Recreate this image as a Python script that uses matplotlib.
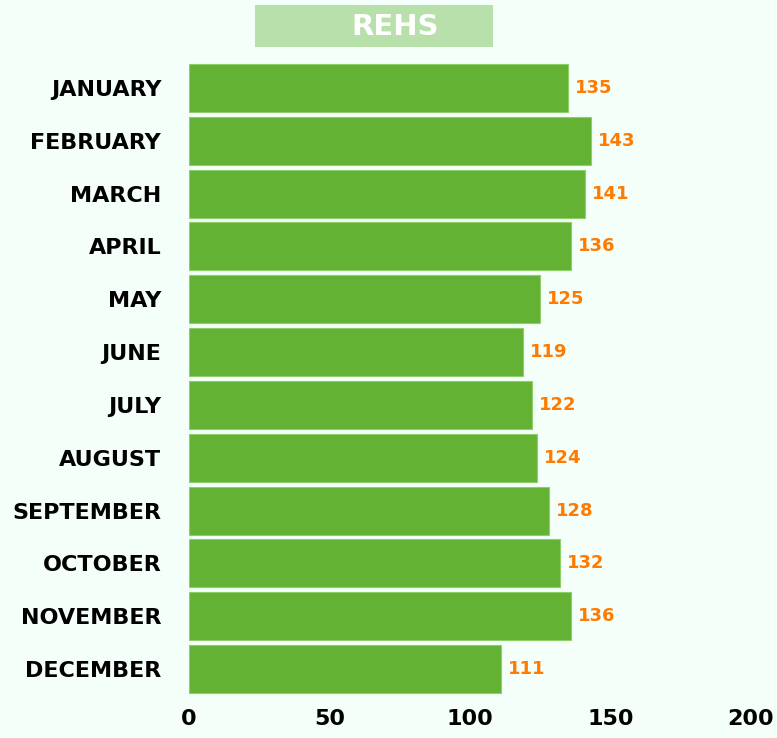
import matplotlib.pyplot as plt
from matplotlib.patches import Rectangle

months = ['JANUARY', 'FEBRUARY', 'MARCH', 'APRIL', 'MAY', 'JUNE', 'JULY',
          'AUGUST', 'SEPTEMBER', 'OCTOBER', 'NOVEMBER', 'DECEMBER']
values = [135, 143, 141, 136, 125, 119, 122, 124, 128, 132, 136, 111]
xticks = [0, 50, 100, 150, 200]

bg = '#f5fff9'
bar_color = '#63b233'
label_color = '#ff7a00'

fig = plt.figure(figsize=(7.77, 7.38), dpi=100, facecolor=bg)
ax = fig.add_axes([189/777, 1-695.4/738, (751-189)/777, (695.4-61.6)/738])
ax.set_facecolor(bg)

pos = list(range(len(months)))
bars = ax.barh(pos, values, height=0.91, color=bar_color,
               edgecolor='#8fcf6a', linewidth=0.8)
ax.set_ylim(len(months) - 0.5, -0.5)
ax.set_xlim(0, 200)

for p, v in zip(pos, values):
    ax.annotate(str(v), xy=(v, p), xytext=(5, 0), textcoords='offset points',
                ha='left', va='center', color=label_color,
                fontsize=13, fontweight='bold')

ax.set_yticks(pos)
ax.set_yticklabels(months, fontsize=16, fontweight='heavy', color='black')
ax.set_xticks(xticks)
ax.set_xticklabels([str(t) for t in xticks], fontsize=16, fontweight='heavy')
ax.tick_params(axis='y', length=0, pad=20)
ax.tick_params(axis='x', length=0, pad=10)
for s in ax.spines.values():
    s.set_visible(False)

# title banner
fig.patches.append(Rectangle((255/777, 1-47/738), (493-255)/777, 42/738,
                             transform=fig.transFigure, facecolor='#b8e0aa',
                             edgecolor='none', zorder=0))
fig.text(395/777, 1-27/738, 'REHS', ha='center', va='center',
         color='white', fontsize=21, fontweight='heavy')

plt.savefig('out.png', dpi=100, facecolor=bg)
